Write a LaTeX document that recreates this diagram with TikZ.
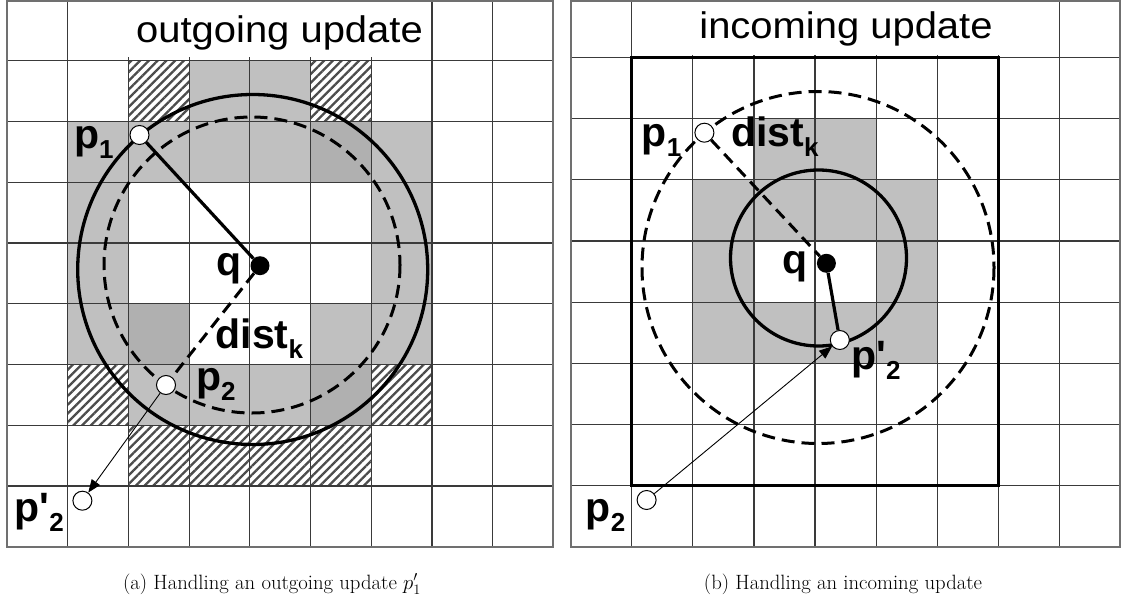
\documentclass[tikz,border=0pt]{standalone}
\usepackage{fontspec}
\newfontfamily\arial{Liberation Sans}
\usetikzlibrary{arrows.meta,patterns.meta}
\definecolor{cellgray}{HTML}{C0C0C0}
\definecolor{cellgrayd}{HTML}{B0B0B0}
\definecolor{gridc}{HTML}{3A3A3A}
\definecolor{framec}{HTML}{707070}
% left panel cell: col, row, style
\newcommand\LC[3]{\path[#3] ({7+60.7*#1},{60.74*#2}) rectangle ({7+60.7*(#1+1)},{60.74*(#2+1)});}
% right panel cell
\newcommand\RC[3]{\path[#3] ({570.6+61.1*#1},{546.7-61.15*(9-#2)}) rectangle ({570.6+61.1*(#1+1)},{546.7-61.15*(8-#2)});}
\newcommand\bl[1]{{\arial\bfseries\fontsize{41}{41}\selectfont #1}}
\newcommand\sbs[1]{\raisebox{-10pt}{\arial\bfseries\fontsize{26}{26}\selectfont #1}}
\tikzset{
  gcell/.style={fill=cellgray},
  dcell/.style={fill=cellgrayd},
  hcell/.style={pattern={Lines[angle=45,distance=6.2pt,line width=2.3pt]},pattern color=black!70},
  gridline/.style={draw=gridc,line width=1.2pt},
  frame/.style={draw=framec,line width=1.8pt},
  bigcircle/.style={draw=black,line width=3.3pt},
  dashcircle/.style={draw=black,line width=3pt,dash pattern=on 13pt off 7pt},
  pt/.style={circle,draw=black,fill=white,line width=1pt,minimum size=19pt,inner sep=0pt},
  qdot/.style={circle,fill=black,minimum size=19pt,inner sep=0pt},
  lab/.style={anchor=base west,inner sep=0pt},
  title/.style={anchor=base,inner sep=0pt},
  thinarrow/.style={draw=black,line width=0.9pt,-{Triangle[length=13pt,width=10pt]}},
  thickline/.style={draw=black,line width=3.2pt},
  dashline/.style={draw=black,line width=3pt,dash pattern=on 12pt off 7pt},
  capt/.style={anchor=base,inner sep=0pt,font=\fontsize{20.7}{24}\selectfont}
}
\begin{document}
\begin{tikzpicture}[x=1pt,y=-1pt]
\useasboundingbox[fill=white] (0,0) rectangle (1126,604);
% ---------------- left panel ----------------
\LC{2}{1}{hcell}\LC{3}{1}{gcell}\LC{4}{1}{gcell}\LC{5}{1}{hcell}
\foreach \c in {1,...,6}{\LC{\c}{2}{gcell}}
\LC{5}{2}{dcell}
\LC{1}{3}{gcell}\LC{6}{3}{gcell}
\LC{1}{4}{gcell}\LC{6}{4}{gcell}
\LC{1}{5}{gcell}\LC{2}{5}{dcell}\LC{5}{5}{gcell}\LC{6}{5}{gcell}
\LC{1}{6}{hcell}\LC{2}{6}{gcell}\LC{3}{6}{gcell}\LC{4}{6}{gcell}\LC{5}{6}{dcell}\LC{6}{6}{hcell}
\foreach \c in {2,...,5}{\LC{\c}{7}{hcell}}
\foreach \i in {1,...,8}{\draw[gridline] ({7+60.7*\i},0) -- ({7+60.7*\i},546.7);}
\foreach \j in {1,...,8}{\draw[gridline] (7,{60.74*\j}) -- (553.3,{60.74*\j});}
\fill[white] (69.2,1) rectangle (430.4,57);
\draw[frame] (7,0.9) rectangle (553.3,546.7);
\node[title] (tl) at (279.5,42.5) {\scalebox{1.08}[1]{\arial\fontsize{37}{37}\selectfont outgoing update}};
\draw[bigcircle] (252.7,269.5) circle[radius=175];
\draw[dashcircle] (252,265) circle[radius=148];
\node[pt] (lp1) at (139.5,135) {};
\node[pt] (lp2) at (166,385) {};
\node[pt] (lp2n) at (82.4,500.7) {};
\node[qdot] (lq) at (260,265.7) {};
\draw[thickline] (lp1) -- (lq);
\draw[dashline] (lq) -- (lp2);
\draw[thinarrow] (lp2) -- (lp2n);
\node[lab] (llp1) at (74,148.5) {\bl{p}\sbs{1}};
\node[lab] (llq) at (216,275.5) {\bl{q}};
\node[lab] (lld) at (215.5,348.3) {\bl{dist}\sbs{k}};
\node[lab] (llp2) at (196,390) {\bl{p}\sbs{2}};
\node[lab] (llp2n) at (14.5,521.7) {\bl{p{\char"27}}\sbs{2}};
% ---------------- right panel ----------------
\RC{3}{2}{gcell}\RC{4}{2}{gcell}
\foreach \c in {2,...,5}{\RC{\c}{3}{gcell}}
\RC{2}{4}{gcell}\RC{5}{4}{gcell}
\foreach \c in {2,...,5}{\RC{\c}{5}{gcell}}
\foreach \i in {1,...,8}{\draw[gridline] ({570.6+61.1*\i},0) -- ({570.6+61.1*\i},546.7);}
\foreach \j in {1,...,8}{\draw[gridline] (570.6,{546.7-61.15*(9-\j)}) -- (1120.3,{546.7-61.15*(9-\j)});}
\fill[white] (632.9,1) rectangle (1058.2,55.5);
\draw[frame] (570.6,0.9) rectangle (1120.3,546.7);
\draw[black,line width=3.2pt] (631.7,57.5) rectangle (998.3,485.55);
\node[title] (tr) at (846,39) {\scalebox{1.08}[1]{\arial\fontsize{37}{37}\selectfont incoming update}};
\draw[dashcircle] (818,267.5) circle[radius=176];
\draw[bigcircle] (818.5,258) circle[radius=88];
\node[pt] (rp1) at (704.4,132.7) {};
\node[qdot] (rq) at (826.4,263.3) {};
\node[pt] (rp2n) at (839.8,340) {};
\node[pt] (rp2) at (646.6,500) {};
\draw[dashline] (rp1) -- (rq);
\draw[thickline] (rq) -- (rp2n);
\draw[thinarrow] (rp2) -- (rp2n);
\node[lab] (rlp1) at (641.5,146.7) {\bl{p}\sbs{1}};
\node[lab] (rld) at (731,146.7) {\bl{dist}\sbs{k}};
\node[lab] (rlq) at (782.3,273.5) {\bl{q}};
\node[lab] (rlp2n) at (851,369) {\bl{p{\char"27}}\sbs{2}};
\node[lab] (rlp2) at (585.5,521) {\bl{p}\sbs{2}};
% ---------------- captions ----------------
\node[capt] (ca) at (272,589) {(a) Handling an outgoing update $p'_1$};
\node[capt] (cb) at (843,589) {(b) Handling an incoming update};
\end{tikzpicture}
\end{document}
